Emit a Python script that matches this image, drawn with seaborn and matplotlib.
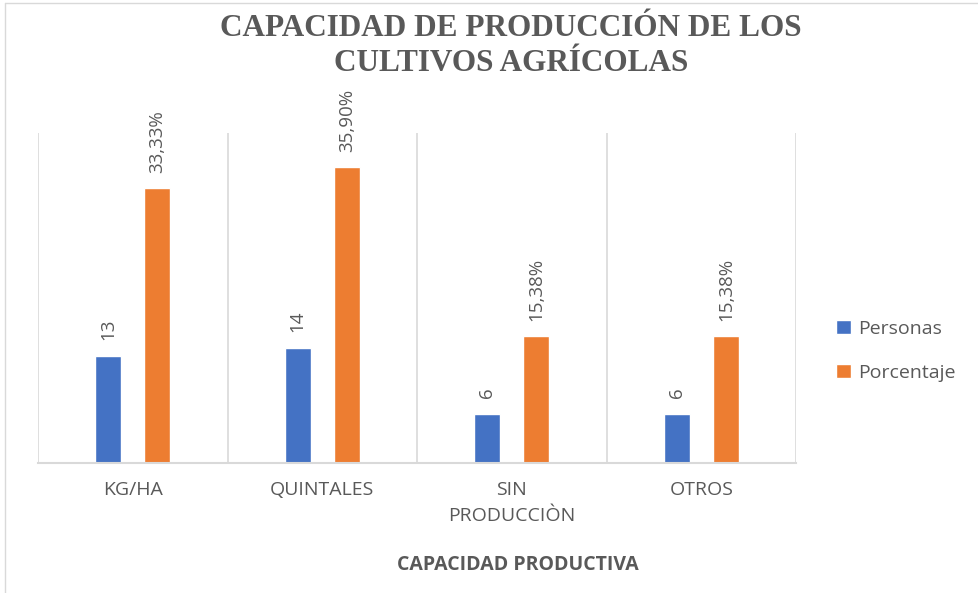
import matplotlib
matplotlib.use("Agg")
import matplotlib.pyplot as plt
import seaborn as sns
import pandas as pd
from matplotlib.lines import Line2D

categories = ["KG/HA", "QUINTALES", "SIN\nPRODUCCIÒN", "OTROS"]
personas = [13, 14, 6, 6]
porcentaje = [33.33, 35.90, 15.38, 15.38]
porcentaje_labels = ["33,33%", "35,90%", "15,38%", "15,38%"]
series = ["Personas", "Porcentaje"]
colors = ["#4472C4", "#ED7D31"]

df = pd.DataFrame({
    "cat": categories * 2,
    "serie": [series[0]] * 4 + [series[1]] * 4,
    "val": personas + porcentaje,
})

sns.set_theme(style="white")
plt.rcParams["font.family"] = ["Open Sans", "DejaVu Sans"]

fig = plt.figure(figsize=(9.79, 5.93), dpi=100)
ax = fig.add_axes([38/979, 130/593, (796-38)/979, (463-133)/593])

sns.barplot(data=df, x="cat", y="val", hue="serie", palette=colors,
            width=0.52, gap=0.47, ax=ax, legend=True, saturation=1)

ax.set_xlim(-0.5, 3.5)
ax.set_ylim(0, 40)
ax.vlines([-0.5, 0.5, 1.5, 2.5, 3.5], 0, 40, color="#d9d9d9", lw=1.2, zorder=0)
for s in ["top", "right", "left"]:
    ax.spines[s].set_visible(False)
ax.spines["bottom"].set_color("#d9d9d9")
ax.spines["bottom"].set_linewidth(1.5)
ax.set_yticks([])
ax.set_ylabel("")
ax.set_xlabel("")
ax.tick_params(axis="x", length=0, pad=13, labelsize=14, labelcolor="#595959")
for t in ax.get_xticklabels():
    t.set_linespacing(1.55)

lab_sets = [[str(v) for v in personas], porcentaje_labels]
for cont, labs in zip(ax.containers, lab_sets):
    ax.bar_label(cont, labels=labs, rotation=90, padding=11, fontsize=13.5,
                 color="#595959")

leg = ax.legend(loc="center left", bbox_to_anchor=(1.03, 0.34), frameon=False,
                fontsize=14, handlelength=0.75, handleheight=0.75,
                labelspacing=1.35, handletextpad=0.4)
for t in leg.get_texts():
    t.set_color("#595959")

fig.text(0.522, 1 - 46/593, "CAPACIDAD DE PRODUCCIÓN DE LOS\nCULTIVOS AGRÍCOLAS",
         ha="center", va="center", fontsize=22.5, fontweight="bold",
         family="Liberation Serif", color="#595959", linespacing=1.3)

fig.text(518/979, 1 - 565/593, "CAPACIDAD PRODUCTIVA", ha="center", va="center",
         fontsize=14, fontweight="bold", color="#595959")

fig.add_artist(Line2D([0.005, 1.0], [0.995, 0.995], transform=fig.transFigure,
                      color="#d9d9d9", lw=1))
fig.add_artist(Line2D([0.005, 0.005], [0.0, 0.995], transform=fig.transFigure,
                      color="#d9d9d9", lw=1))

fig.savefig("out.png", dpi=100, facecolor="white")
